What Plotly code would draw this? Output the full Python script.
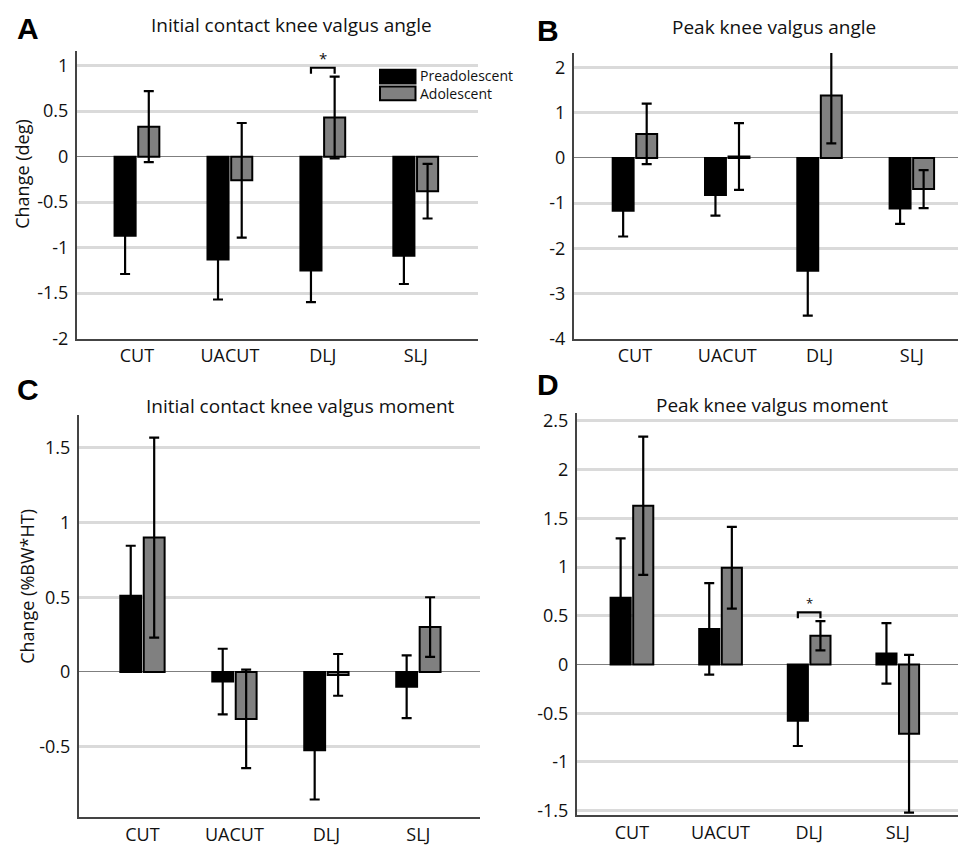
import plotly.graph_objects as go

# ---------------- data ----------------
categories = ["CUT", "UACUT", "DLJ", "SLJ"]
groups = ["Preadolescent", "Adolescent"]

# Panel A: Initial contact knee valgus angle (deg)
A_pre = [-0.87, -1.13, -1.25, -1.09]
A_pre_err = [0.42, 0.44, 0.35, 0.31]
A_ado = [0.33, -0.26, 0.43, -0.38]
A_ado_err = [0.39, 0.63, 0.45, 0.30]

# Panel B: Peak knee valgus angle (deg)
B_pre = [-1.17, -0.82, -2.50, -1.12]
B_pre_err = [0.57, 0.46, 0.99, 0.34]
B_ado = [0.53, 0.03, 1.38, -0.69]
B_ado_err = [0.67, 0.74, 1.06, 0.42]

# Panel C: Initial contact knee valgus moment (%BW*HT)
C_pre = [0.51, -0.065, -0.525, -0.10]
C_pre_err = [0.335, 0.22, 0.33, 0.21]
C_ado = [0.90, -0.315, -0.02, 0.30]
C_ado_err = [0.67, 0.33, 0.14, 0.20]

# Panel D: Peak knee valgus moment (%BW*HT)
D_pre = [0.685, 0.365, -0.577, 0.114]
D_pre_err = [0.61, 0.47, 0.26, 0.31]
D_ado = [1.63, 0.993, 0.295, -0.711]
D_ado_err = [0.71, 0.42, 0.15, 0.81]

titles = ["Initial contact knee valgus angle", "Peak knee valgus angle",
          "Initial contact knee valgus moment", "Peak knee valgus moment"]
letters = ["A", "B", "C", "D"]
ytitles = ["Change (deg)", "", "Change (%BW*HT)", ""]

A_ticks = [-2, -1.5, -1, -0.5, 0, 0.5, 1]
A_ticklabels = ["-2", "-1.5", "-1", "-0.5", "0", "0.5", "1"]
B_ticks = [-4, -3, -2, -1, 0, 1, 2]
B_ticklabels = ["-4", "-3", "-2", "-1", "0", "1", "2"]
C_ticks = [-0.5, 0, 0.5, 1, 1.5]
C_ticklabels = ["-0.5", "0", "0.5", "1", "1.5"]
D_ticks = [-1.5, -1, -0.5, 0, 0.5, 1, 1.5, 2, 2.5]
D_ticklabels = ["-1.5", "-1", "-0.5", "0", "0.5", "1", "1.5", "2", "2.5"]

# significant differences: (panel index, category)
significant = [(0, "DLJ"), (3, "DLJ")]

# ---------------- layout helpers ----------------
W, H = 958, 851
FONT = "Open Sans"
colors = ["#000000", "#808080"]

panels = [
    dict(pre=A_pre, pre_err=A_pre_err, ado=A_ado, ado_err=A_ado_err, ticks=A_ticks, labels=A_ticklabels,
         xpx=(77, 478), ypx=(47, 340), yr=(-2, 1.16), xr=(-0.645, 3.67)),
    dict(pre=B_pre, pre_err=B_pre_err, ado=B_ado, ado_err=B_ado_err, ticks=B_ticks, labels=B_ticklabels,
         xpx=(574, 958), ypx=(49, 340), yr=(-4, 2.32), xr=(-0.66, 3.5)),
    dict(pre=C_pre, pre_err=C_pre_err, ado=C_ado, ado_err=C_ado_err, ticks=C_ticks, labels=C_ticklabels,
         xpx=(79, 480), ypx=(418, 828), yr=(-0.975, 1.72), xr=(-0.69, 3.67)),
    dict(pre=D_pre, pre_err=D_pre_err, ado=D_ado, ado_err=D_ado_err, ticks=D_ticks, labels=D_ticklabels,
         xpx=(577, 958), ypx=(416, 826), yr=(-1.55, 2.58), xr=(-0.62, 3.68)),
]
title_pos = [(291, 20), (774, 22), (300, 409), (772, 408)]
letter_pos = [(28, 24), (548, 26), (28, 392), (548, 387)]
ytitle_pos = [(22, 172), None, (27, 593), None]

BARGAP = 0.49
BARGROUPGAP = 0.11
slot = (1 - BARGAP) / 2

def px(x):
    return x / W

def py(y):
    return 1 - y / H

fig = go.Figure()
xidx = list(range(len(categories)))
annotations = []
shapes = []

for i, p in enumerate(panels):
    n = "" if i == 0 else str(i + 1)
    xa, ya = "x" + n, "y" + n
    for gname, vals, errs, col in [(groups[0], p["pre"], p["pre_err"], colors[0]),
                                   (groups[1], p["ado"], p["ado_err"], colors[1])]:
        fig.add_trace(go.Bar(
            x=xidx, y=vals, name=gname, xaxis=xa, yaxis=ya, showlegend=False, cliponaxis=False,
            marker=dict(color=col, line=dict(color="#000000", width=2)),
            error_y=dict(type="data", array=errs, visible=True, color="#000000", thickness=2.2, width=5),
        ))
    lay_x = "xaxis" + n
    lay_y = "yaxis" + n
    fig.layout[lay_x] = dict(
        domain=[px(p["xpx"][0]), px(p["xpx"][1])], range=list(p["xr"]), anchor=ya,
        tickvals=xidx, ticktext=categories, showline=True, linecolor="#444444", linewidth=2.2,
        showgrid=False, zeroline=False, ticks="", ticklen=0, tickfont=dict(family=FONT, size=18, color="#111111"),
    )
    fig.layout[lay_y] = dict(
        domain=[py(p["ypx"][1]), py(p["ypx"][0])], range=list(p["yr"]), anchor=xa,
        tickvals=p["ticks"], ticktext=p["labels"], showline=True, linecolor="#444444", linewidth=2.2,
        showgrid=True, gridcolor="#dadada", gridwidth=2.5,
        zeroline=True, zerolinecolor="#7f7f7f", zerolinewidth=1.2,
        ticks="", ticklen=0, ticklabelstandoff=3, tickfont=dict(family=FONT, size=18, color="#111111"),
    )
    tx, ty = title_pos[i]
    annotations.append(dict(text=titles[i], x=px(tx), y=py(ty), xref="paper", yref="paper",
                            showarrow=False, xanchor="center", yanchor="middle",
                            font=dict(family=FONT, size=19, color="#111111")))
    lx, ly = letter_pos[i]
    annotations.append(dict(text="<b>" + letters[i] + "</b>", x=px(lx), y=py(ly), xref="paper", yref="paper",
                            showarrow=False, xanchor="center", yanchor="middle",
                            font=dict(family="Liberation Sans", size=30, color="#000000")))
    if ytitle_pos[i] is not None:
        ax_, ay_ = ytitle_pos[i]
        annotations.append(dict(text=ytitles[i], x=px(ax_), y=py(ay_), xref="paper", yref="paper",
                                textangle=-90, showarrow=False, xanchor="center", yanchor="middle",
                                font=dict(family=FONT, size=18, color="#111111")))

# significance brackets
for (pi, cat) in significant:
    p = panels[pi]
    n = "" if pi == 0 else str(pi + 1)
    k = categories.index(cat)
    units_per_px = (p["yr"][1] - p["yr"][0]) / (p["ypx"][1] - p["ypx"][0])
    top = max(p["ado"][k] + p["ado_err"][k], p["pre"][k] + p["pre_err"][k])
    y_top = top + 9 * units_per_px
    y_leg = y_top - 6 * units_per_px
    x0 = k - slot / 2
    x1 = k + slot / 2
    shapes.append(dict(type="path", xref="x" + n, yref="y" + n,
                       path=f"M {x0},{y_leg} L {x0},{y_top} L {x1},{y_top} L {x1},{y_leg}",
                       line=dict(color="#000000", width=2.2)))
    annotations.append(dict(text="*", x=k, y=y_top, xref="x" + n, yref="y" + n, showarrow=False,
                            yanchor="bottom", yshift=-2, font=dict(family=FONT, size=15 if pi == 0 else 13, color="#111111")))

# manual legend (panel A)
leg_rows = [(colors[0], 66, 80), (colors[1], 83, 97)]
for col, y0, y1 in leg_rows:
    shapes.append(dict(type="rect", xref="paper", yref="paper", x0=px(380), x1=px(415.5), y0=py(y1), y1=py(y0),
                       fillcolor=col, line=dict(color="#000000", width=2)))
annotations.append(dict(text="<br>".join(groups), x=px(418), y=py(81.5), xref="paper", yref="paper",
                        showarrow=False, xanchor="left", yanchor="middle", align="left",
                        font=dict(family=FONT, size=14, color="#111111")))

fig.update_layout(
    width=W, height=H, margin=dict(l=0, r=0, t=0, b=0),
    paper_bgcolor="white", plot_bgcolor="white",
    barmode="group", bargap=BARGAP, bargroupgap=BARGROUPGAP,
    annotations=annotations, shapes=shapes, showlegend=False,
    font=dict(family=FONT),
)

fig.write_html("out.html", config={"displayModeBar": False},
               post_script="document.body.style.margin='0';")
